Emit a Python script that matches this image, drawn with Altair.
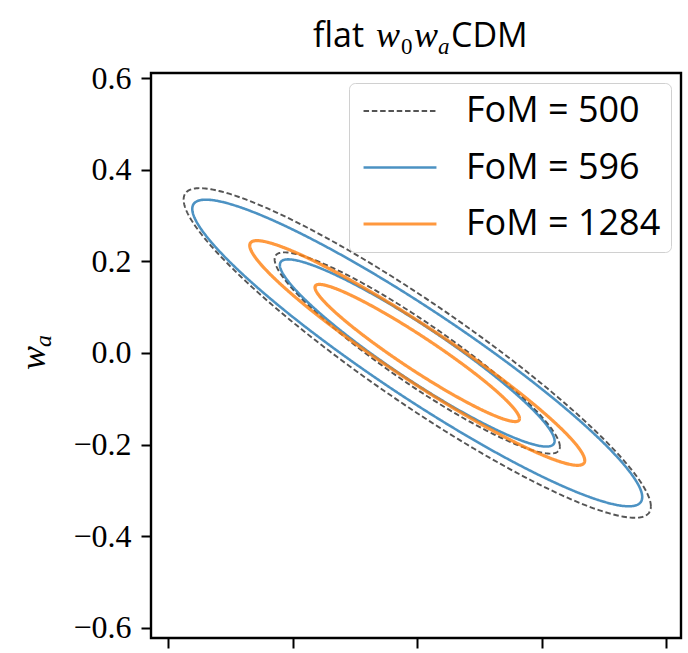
import numpy as np
import pandas as pd
import altair as alt

# Forecast constraints in the (w0, wa) plane, one entry per survey configuration
fom_values = [500, 596, 1284]
sigma_w0 = [0.0378, 0.0364, 0.0271]
sigma_wa = [0.1448, 0.1347, 0.0987]
correlation_sign = -1
fiducial_w0 = -1.0
fiducial_wa = 0.0
delta_chi2 = [2.30, 6.17]  # 68% and 95% contours for two parameters

x_ticks = [-1.10, -1.05, -1.00, -0.95, -0.90]
y_ticks = [-0.6, -0.4, -0.2, 0.0, 0.2, 0.4, 0.6]

labels = [f"FoM = {f}" for f in fom_values]
line_colors = ["#2a2a2a", "#1f77b4", "#ff7f0e"]
line_dashes = [[5.5, 2.8], [1, 0], [1, 0]]
line_widths = [1.9, 3.2, 3.2]

# Trace each confidence ellipse from its covariance (rho follows from the FoM)
t = np.linspace(0.0, 2.0 * np.pi, 361)
frames = []
for lab, fom, sx, sy in zip(labels, fom_values, sigma_w0, sigma_wa):
    root = 1.0 / (fom * sx * sy)          # sqrt(1 - rho^2)
    rho = correlation_sign * np.sqrt(1.0 - root ** 2)
    for lvl, d in enumerate(delta_chi2):
        k = np.sqrt(d)
        frames.append(pd.DataFrame({
            "label": lab,
            "curve": f"{lab}-{lvl}",
            "i": np.arange(t.size),
            "w0": fiducial_w0 + k * sx * np.cos(t),
            "wa": fiducial_wa + k * sy * (rho * np.cos(t) + root * np.sin(t)),
        }))
df = pd.concat(frames, ignore_index=True)

serif = "Liberation Serif"
sans = "Open Sans"

contours = alt.Chart(df).mark_line(strokeOpacity=0.8, clip=True).encode(
    x=alt.X("w0:Q",
            scale=alt.Scale(domain=[-1.107, -0.894], nice=False, zero=False),
            axis=alt.Axis(values=x_ticks, labels=False, title=None, grid=False,
                          domain=False, ticks=True, tickSize=10, tickWidth=2,
                          tickColor="black")),
    y=alt.Y("wa:Q",
            scale=alt.Scale(domain=[-0.622, 0.611], nice=False, zero=False),
            axis=alt.Axis(values=y_ticks, format=".1f", title=None, grid=False,
                          domain=False, ticks=True, tickSize=10, tickWidth=2,
                          tickColor="black", labelFont=serif, labelFontSize=32,
                          labelColor="black", labelPadding=10)),
    color=alt.Color("label:N", scale=alt.Scale(domain=labels, range=line_colors),
                    legend=alt.Legend(title=None)),
    strokeDash=alt.StrokeDash("label:N", scale=alt.Scale(domain=labels, range=line_dashes),
                              legend=alt.Legend(title=None)),
    strokeWidth=alt.StrokeWidth("label:N", scale=alt.Scale(domain=labels, range=line_widths),
                                legend=alt.Legend(title=None)),
    detail="curve:N",
    order="i:Q",
)


def piece(txt, px, py, font, size, style="normal", angle=0):
    return alt.Chart(pd.DataFrame({"s": [txt]})).mark_text(
        font=font, fontSize=size, fontStyle=style, align="left",
        baseline="alphabetic", angle=angle, color="black",
    ).encode(x=alt.value(px), y=alt.value(py), text="s:N")


title_parts = [
    piece("flat", 162, -26, sans, 34),
    piece("w", 225, -26, serif, 36, "italic"),
    piece("0", 250, -19, serif, 23),
    piece("w", 263, -26, serif, 36, "italic"),
    piece("a", 287, -19, serif, 23, "italic"),
    piece("CDM", 300, -26, sans, 34),
]
ylabel_parts = [
    piece("w", -106, 297, serif, 36, "italic", 270),
    piece("a", -100, 274, serif, 24, "italic", 270),
]

chart = alt.layer(contours, *title_parts, *ylabel_parts).properties(
    width=530, height=565,
    autosize=alt.AutoSizeParams(type="none"),
    padding={"left": 151, "top": 73, "right": 7, "bottom": 15},
).configure_view(
    stroke="black", strokeWidth=2.4,
).configure_legend(
    orient="top-right", offset=10, padding=10,
    strokeColor="#d0d0d0", fillColor="white", cornerRadius=6,
    symbolType="M-2.3,0H2.3", symbolSize=1005, symbolOpacity=0.8,
    symbolOffset=23,
    labelFont=sans, labelFontSize=36, labelColor="black", labelLimit=0,
    labelOffset=48, rowPadding=20.5,
)

chart.save("out.html", embed_options={"renderer": "svg", "actions": False})
